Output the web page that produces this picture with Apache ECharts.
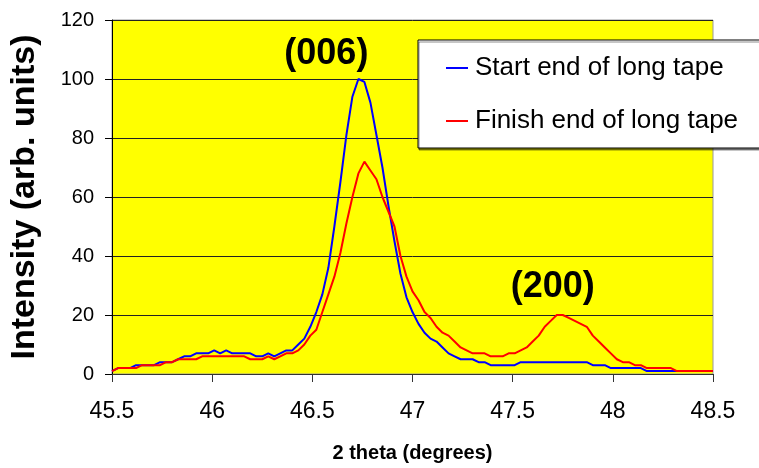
<!DOCTYPE html>
<html>
<head>
<meta charset="utf-8">
<script src="https://cdn.jsdelivr.net/npm/echarts@6/dist/echarts.min.js"></script>
<style>
  html, body { margin: 0; padding: 0; background: #fff; }
  #chart { width: 759px; height: 468px; }
</style>
</head>
<body>
<div id="chart"></div>
<script>
// 2-theta scan positions (degrees)
const theta = [45.50,45.53,45.56,45.59,45.62,45.65,45.68,45.71,45.74,45.77,
  45.80,45.83,45.86,45.89,45.92,45.95,45.98,46.01,46.04,46.07,
  46.10,46.13,46.16,46.19,46.22,46.25,46.28,46.31,46.34,46.37,
  46.40,46.43,46.46,46.49,46.52,46.55,46.58,46.61,46.64,46.67,
  46.70,46.73,46.76,46.79,46.82,46.85,46.88,46.91,46.94,46.97,
  47.00,47.03,47.06,47.09,47.12,47.15,47.18,47.21,47.24,47.27,
  47.30,47.33,47.36,47.39,47.42,47.45,47.48,47.51,47.54,47.57,
  47.60,47.63,47.66,47.69,47.72,47.75,47.78,47.81,47.84,47.87,
  47.90,47.93,47.96,47.99,48.02,48.05,48.08,48.11,48.14,48.17,
  48.20,48.23,48.26,48.29,48.32,48.35,48.38,48.41,48.44,48.47,48.50];

// Intensity at the start end of the tape
const startEnd = [1,2,2,2,3,3,3,3,4,4,
  4,5,6,6,7,7,7,8,7,8,
  7,7,7,7,6,6,7,6,7,8,
  8,10,12,16,21,27,36,50,65,81,
  94,100,99,92,81,70,57,45,34,26,
  21,17,14,12,11,9,7,6,5,5,
  5,4,4,3,3,3,3,3,4,4,
  4,4,4,4,4,4,4,4,4,4,
  3,3,3,2,2,2,2,2,2,1,
  1,1,1,1,1,1,1,1,1,1,1];

// Intensity at the finish end of the tape
const finishEnd = [1,2,2,2,2,3,3,3,3,4,
  4,5,5,5,5,6,6,6,6,6,
  6,6,6,5,5,5,6,5,6,7,
  7,8,10,13,15,21,27,33,41,51,
  60,68,72,69,66,60,55,50,40,33,
  28,25,21,19,16,14,13,11,9,8,
  7,7,7,6,6,6,7,7,8,9,
  11,13,16,18,20,20,19,18,17,16,
  13,11,9,7,5,4,4,3,3,2,
  2,2,2,2,1,1,1,1,1,1,1];

// Reflection labels placed above their peaks
const peakNames = ['(006)', '(200)'];
const peakTheta = [46.57, 47.70];
const peakIntensity = [108.5, 29.5];

const seriesNames = ['Start end of long tape', 'Finish end of long tape'];

const FONT = '"Liberation Sans", Arial, sans-serif';

const chart = echarts.init(document.getElementById('chart'), null, { renderer: 'canvas' });

chart.setOption({
  animation: false,
  backgroundColor: '#ffffff',
  textStyle: { fontFamily: FONT },
  grid: {
    left: 112, right: 46, top: 20, bottom: 90,
    show: true,
    backgroundColor: '#ffff00',
    borderColor: '#9a9a9a',
    borderWidth: 1
  },
  legend: {
    data: seriesNames,
    orient: 'vertical',
    left: 418, top: 40,
    backgroundColor: '#ffffff',
    borderColor: '#000000',
    borderWidth: 1,
    padding: [15, 40, 14, 28],
    itemGap: 27,
    itemWidth: 22,
    itemHeight: 2,
    icon: 'rect',
    shadowColor: 'rgba(0,0,0,0.45)',
    shadowOffsetX: 1,
    shadowOffsetY: 2,
    shadowBlur: 0,
    textStyle: { fontFamily: FONT, fontSize: 26, color: '#000', padding: [0, 0, 0, 2] }
  },
  xAxis: {
    type: 'value',
    min: 45.5, max: 48.5, interval: 0.5,
    name: '2 theta (degrees)',
    nameLocation: 'middle',
    nameGap: 69,
    nameTextStyle: { fontFamily: FONT, fontSize: 20, fontWeight: 'bold', color: '#000' },
    axisLine: { show: true, onZero: false, lineStyle: { color: '#333', width: 1 } },
    axisTick: { show: true, inside: false, length: 8, lineStyle: { color: '#333' } },
    axisLabel: { fontFamily: FONT, fontSize: 23, color: '#000', margin: 26 },
    splitLine: { show: false }
  },
  yAxis: {
    type: 'value',
    min: 0, max: 120, interval: 20,
    name: 'Intensity (arb. units)',
    nameLocation: 'middle',
    nameGap: 70,
    nameRotate: 90,
    nameTextStyle: { fontFamily: FONT, fontSize: 34, fontWeight: 'bold', color: '#000' },
    axisLine: { show: true, lineStyle: { color: '#000', width: 1 } },
    axisTick: { show: true, inside: false, length: 7, lineStyle: { color: '#000' } },
    axisLabel: { fontFamily: FONT, fontSize: 20, color: '#000', margin: 18 },
    splitLine: { show: true, lineStyle: { color: '#222', width: 1 } }
  },
  series: [
    {
      name: seriesNames[0],
      type: 'line',
      data: theta.map((t, i) => [t, startEnd[i]]),
      showSymbol: false,
      symbol: 'none',
      lineStyle: { color: '#0000ff', width: 2 },
      itemStyle: { color: '#0000ff' },
      z: 3
    },
    {
      name: seriesNames[1],
      type: 'line',
      data: theta.map((t, i) => [t, finishEnd[i]]),
      showSymbol: false,
      symbol: 'none',
      lineStyle: { color: '#ff0000', width: 2 },
      itemStyle: { color: '#ff0000' },
      z: 4
    },
    {
      name: 'peaks',
      type: 'scatter',
      silent: true,
      symbolSize: 0,
      itemStyle: { color: '#ffff00', opacity: 1 },
      data: peakNames.map((n, i) => ({ name: n, value: [peakTheta[i], peakIntensity[i]] })),
      label: {
        show: true,
        position: 'inside',
        formatter: p => p.name,
        fontFamily: FONT,
        fontSize: 36,
        fontWeight: 'bold',
        color: '#000000',
        opacity: 1,
        textBorderWidth: 0
      },
      labelLayout: { hideOverlap: false },
      z: 5
    }
  ]
});
</script>
</body>
</html>
